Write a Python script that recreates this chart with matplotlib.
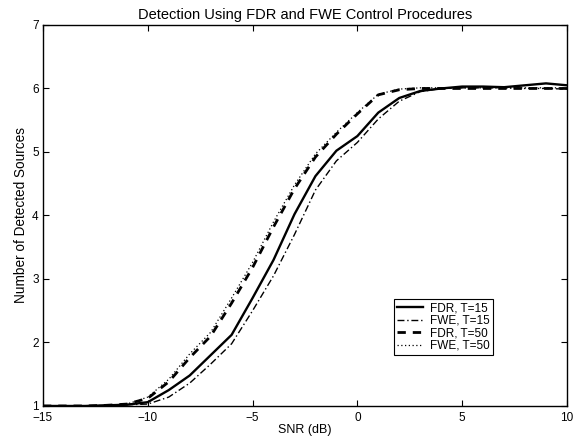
import matplotlib
matplotlib.use("Agg")
import matplotlib.pyplot as plt

plt.rcParams['font.family'] = ['Liberation Sans', 'DejaVu Sans']

snr = [-15, -14, -13, -12, -11, -10, -9, -8, -7, -6, -5, -4, -3, -2, -1, 0,
       1, 2, 3, 4, 5, 6, 7, 8, 9, 10]
fdr_t15 = [1.0, 1.0, 1.0, 1.01, 1.02, 1.06, 1.25, 1.48, 1.80, 2.12, 2.70, 3.30,
           4.02, 4.62, 5.02, 5.25, 5.62, 5.85, 5.96, 6.00, 6.03, 6.03, 6.02,
           6.05, 6.08, 6.05]
fwe_t15 = [1.0, 1.0, 1.0, 1.01, 1.02, 1.03, 1.14, 1.36, 1.66, 1.98, 2.50, 3.05,
           3.70, 4.40, 4.86, 5.15, 5.52, 5.80, 5.95, 6.00, 6.01, 6.01, 6.01,
           6.00, 6.00, 5.99]
fdr_t50 = [1.0, 1.0, 1.0, 1.01, 1.03, 1.12, 1.38, 1.76, 2.10, 2.62, 3.18, 3.82,
           4.42, 4.92, 5.28, 5.60, 5.90, 5.98, 6.00, 6.00, 6.00, 6.00, 6.00,
           6.00, 6.00, 6.00]
fwe_t50 = [1.0, 1.0, 1.0, 1.01, 1.03, 1.14, 1.42, 1.82, 2.16, 2.70, 3.26, 3.90,
           4.48, 4.97, 5.31, 5.62, 5.91, 5.99, 6.01, 6.01, 6.01, 6.01, 6.01,
           6.01, 6.01, 6.01]

labels = ['FDR, T=15', 'FWE, T=15', 'FDR, T=50', 'FWE, T=50']
title = 'Detection Using FDR and FWE Control Procedures'
xlabel = 'SNR (dB)'
ylabel = 'Number of Detected Sources'

fig = plt.figure(figsize=(5.8, 4.38), dpi=100)
ax = fig.add_axes([0.0741, 0.0731, 0.9034, 0.8699])

ax.plot(snr, fdr_t15, color='black', linestyle='-', linewidth=1.7, label=labels[0])
ax.plot(snr, fwe_t15, color='black', linestyle=(0, (5, 2, 1, 2)), linewidth=1.0, label=labels[1])
ax.plot(snr, fdr_t50, color='black', linestyle=(0, (3, 2.5)), linewidth=2.0, label=labels[2])
ax.plot(snr, fwe_t50, color='black', linestyle=(0, (1, 2)), linewidth=0.9, label=labels[3])

ax.set_xlim(-15, 10)
ax.set_ylim(1, 7)
ax.set_xticks([-15, -10, -5, 0, 5, 10])
ax.set_xticklabels(['\u221215', '\u221210', '\u22125', '0', '5', '10'])
ax.set_yticks([1, 2, 3, 4, 5, 6, 7])
ax.tick_params(direction='in', top=True, right=True, length=4, width=0.8,
               labelsize=8.5)
ax.tick_params(axis='x', pad=4.5)
ax.tick_params(axis='y', pad=3)
for s in ax.spines.values():
    s.set_linewidth(1.0)

ax.set_title(title, fontsize=10.5, pad=4)
ax.set_xlabel(xlabel, fontsize=9, labelpad=0)
ax.set_ylabel(ylabel, fontsize=9.8, labelpad=3)

leg = ax.legend(loc='lower left', bbox_to_anchor=(0.67, 0.134), borderaxespad=0,
                fancybox=False, edgecolor='black', framealpha=1, fontsize=8.5,
                handlelength=2.2, handletextpad=0.6, labelspacing=0.05,
                borderpad=0.25)
leg.get_frame().set_linewidth(0.8)

fig.savefig('out.png', dpi=100)
